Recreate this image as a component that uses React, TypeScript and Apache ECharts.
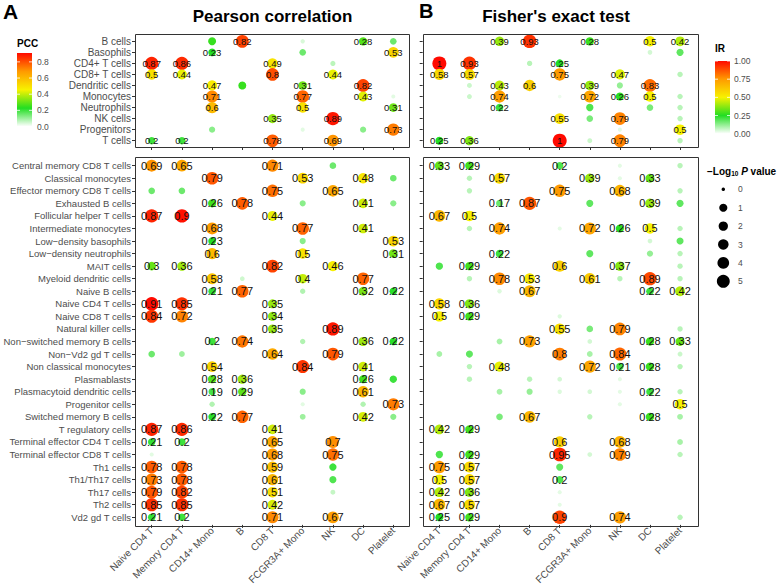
import React, { useEffect, useRef } from 'react';
import * as echarts from 'echarts';

const _ = null;

const cellTypes = ['Naive CD4 T', 'Memory CD4 T', 'CD14+ Mono', 'B', 'CD8 T', 'FCGR3A+ Mono', 'NK', 'DC', 'Platelet'];

const majorLineages = ['B cells', 'Basophils', 'CD4+ T cells', 'CD8+ T cells', 'Dendritic cells', 'Monocytes', 'Neutrophils', 'NK cells', 'Progenitors', 'T cells'];

const fineSubsets = [
  'Central memory CD8 T cells', 'Classical monocytes', 'Effector memory CD8 T cells', 'Exhausted B cells',
  'Follicular helper T cells', 'Intermediate monocytes', 'Low\u2212density basophils', 'Low\u2212density neutrophils',
  'MAIT cells', 'Myeloid dendritic cells', 'Naive B cells', 'Naive CD4 T cells', 'Naive CD8 T cells',
  'Natural killer cells', 'Non\u2212switched memory B cells', 'Non\u2212Vd2 gd T cells', 'Non classical monocytes',
  'Plasmablasts', 'Plasmacytoid dendritic cells', 'Progenitor cells', 'Switched memory B cells',
  'T regulatory cells', 'Terminal effector CD4 T cells', 'Terminal effector CD8 T cells', 'Th1 cells',
  'Th1/Th17 cells', 'Th17 cells', 'Th2 cells', 'Vd2 gd T cells',
];

// Each row follows cellTypes. Negative number = dot drawn without a value label (|v| is the value).
const pccMajor: (number | null)[][] = [
  [_, _, -0.25, 0.82, _, -0.04, _, 0.28, -0.15],
  [_, _, 0.23, _, _, -0.15, _, _, 0.53],
  [0.87, 0.86, _, _, 0.49, _, -0.07, _, _],
  [0.5, 0.44, _, _, 0.8, _, 0.44, _, _],
  [_, _, 0.47, -0.25, _, 0.31, _, 0.82, _],
  [_, _, 0.71, _, _, 0.77, _, 0.43, -0.03],
  [_, _, 0.6, _, _, 0.5, _, _, 0.31],
  [_, _, _, _, 0.35, _, 0.89, _, _],
  [_, _, -0.12, _, _, -0.03, _, -0.12, 0.73],
  [0.2, 0.2, _, _, 0.78, _, 0.69, _, _],
];

const pccFine: (number | null)[][] = [
  [0.69, 0.65, _, _, 0.71, _, -0.15, _, _],
  [_, _, 0.79, _, _, 0.53, _, 0.48, -0.15],
  [-0.15, -0.15, _, _, 0.75, _, 0.65, _, _],
  [_, _, 0.26, 0.78, _, -0.12, _, 0.41, -0.12],
  [0.87, 0.9, _, _, 0.44, _, _, _, _],
  [_, _, 0.68, _, _, 0.77, _, 0.41, _],
  [_, _, 0.23, _, _, -0.12, _, _, 0.53],
  [_, _, 0.6, _, _, 0.5, _, _, 0.31],
  [0.3, 0.36, _, _, 0.82, _, 0.46, _, _],
  [_, _, 0.58, -0.05, _, 0.4, _, 0.77, _],
  [_, _, 0.21, 0.77, _, -0.08, _, 0.32, 0.22],
  [0.91, 0.85, _, _, 0.35, _, _, _, _],
  [0.84, 0.72, _, _, 0.34, _, _, _, _],
  [_, _, _, _, 0.35, _, 0.89, _, _],
  [_, _, 0.2, 0.74, _, -0.08, _, 0.36, 0.22],
  [-0.15, -0.1, _, _, 0.64, _, 0.79, _, _],
  [_, _, 0.54, _, _, 0.84, _, 0.41, _],
  [_, _, 0.28, 0.36, _, _, _, 0.26, -0.2],
  [_, _, 0.19, 0.29, _, -0.12, _, 0.61, _],
  [_, _, -0.08, _, _, -0.03, _, -0.08, 0.73],
  [_, _, 0.22, 0.77, _, -0.1, _, 0.42, -0.12],
  [0.87, 0.86, _, _, 0.41, _, _, _, _],
  [0.21, 0.2, _, _, 0.65, _, 0.7, _, _],
  [-0.03, _, _, _, 0.68, _, 0.75, _, _],
  [0.78, 0.78, _, _, 0.59, _, -0.2, _, _],
  [0.73, 0.78, _, _, 0.61, _, -0.18, _, _],
  [0.79, 0.82, _, _, 0.51, _, -0.06, _, _],
  [0.85, 0.85, _, _, 0.42, _, _, _, _],
  [0.21, 0.2, _, _, 0.71, _, 0.67, _, _],
];

const irMajor: (number | null)[][] = [
  [_, _, 0.39, 0.93, _, 0.28, _, 0.5, 0.42],
  [_, _, _, _, _, _, _, -0.05, -0.18],
  [1, 0.93, _, -0.08, 0.25, _, _, _, _],
  [0.58, 0.57, _, _, 0.75, _, 0.47, _, -0.08],
  [_, -0.06, 0.43, 0.6, _, 0.39, -0.12, 0.83, _],
  [_, -0.06, 0.74, _, -0.02, 0.72, 0.26, 0.5, -0.08],
  [_, _, 0.22, _, _, -0.2, _, -0.15, -0.08],
  [_, _, _, _, 0.55, -0.15, 0.79, _, -0.08],
  [_, _, _, _, _, _, -0.03, _, 0.5],
  [0.25, 0.36, _, _, 1, -0.06, 0.79, _, -0.08],
];

const irFine: (number | null)[][] = [
  [0.33, 0.29, _, _, 0.2, _, -0.03, _, -0.08],
  [_, -0.08, 0.57, _, _, 0.39, -0.03, 0.33, _],
  [_, -0.08, _, _, 0.75, _, 0.68, _, -0.08],
  [_, _, 0.17, 0.87, _, -0.18, _, 0.39, -0.18],
  [0.67, 0.5, _, _, _, _, _, _, _],
  [_, -0.08, 0.74, _, -0.03, 0.72, 0.26, 0.5, -0.08],
  [_, _, _, _, _, _, _, -0.05, -0.18],
  [_, _, 0.22, _, _, -0.18, _, -0.12, -0.08],
  [-0.2, 0.29, _, _, 0.6, _, 0.37, _, -0.08],
  [_, -0.08, 0.78, 0.53, _, 0.61, -0.08, 0.89, -0.08],
  [_, _, -0.04, 0.67, _, _, _, 0.22, 0.42],
  [0.58, 0.36, _, _, _, _, _, _, _],
  [0.5, 0.29, _, _, -0.04, _, _, _, _],
  [_, _, _, _, 0.55, -0.15, 0.79, _, -0.08],
  [_, _, -0.1, 0.73, _, -0.05, _, 0.28, 0.33],
  [-0.1, -0.18, _, _, 0.8, -0.1, 0.84, _, -0.06],
  [_, -0.08, 0.48, _, _, 0.72, 0.21, 0.28, -0.08],
  [_, -0.08, _, -0.08, -0.05, _, -0.03, _, _],
  [_, _, -0.1, -0.12, -0.04, -0.05, -0.03, 0.22, -0.08],
  [_, _, _, _, _, _, -0.03, _, 0.5],
  [_, _, -0.15, 0.67, _, -0.08, _, 0.28, -0.1],
  [0.42, 0.29, _, _, _, _, _, _, _],
  [_, _, _, _, 0.6, _, 0.68, _, -0.1],
  [-0.2, 0.29, _, _, 0.95, -0.05, 0.79, _, -0.08],
  [0.75, 0.57, _, _, -0.18, _, _, _, _],
  [0.5, 0.57, _, _, 0.2, _, _, _, _],
  [0.42, 0.36, _, _, -0.03, _, _, _, _],
  [0.67, 0.57, _, _, -0.03, _, _, _, _],
  [0.25, 0.29, _, _, 0.9, _, 0.74, _, -0.08],
];

const pccTicks = [0, 0.2, 0.4, 0.6, 0.8];
const irTicks = [0, 0.25, 0.5, 0.75, 1];
const pValueLevels = [0, 1, 2, 3, 4, 5];
const pccMax = 0.91;
const irMax = 1;

const palette = ['#ffffff', '#22de22', '#f7f200', '#ff9a00', '#ff0a00'];
const FONT = '"Liberation Sans", Arial, Helvetica, sans-serif';
const GREY = '#4d4d4d';

function toData(m: (number | null)[][]) {
  const out: number[][] = [];
  m.forEach((row, r) =>
    row.forEach((v, c) => {
      if (v !== null) out.push([c, r, Math.abs(v), v > 0 ? 1 : 0]);
    })
  );
  return out;
}

const dotSize = (v: number) => 2 + 12 * Math.sqrt(v);
const pLegendSize = (p: number) => (p === 0 ? 3.5 : 6.9 + 1.2 * p);

export default function App() {
  const ref = useRef<HTMLDivElement>(null);
  useEffect(() => {
    if (!ref.current) return;
    const chart = echarts.init(ref.current, undefined, { renderer: 'svg' });

    // grids: 0 left-top, 1 left-bottom, 2 right-top, 3 right-bottom
    const grids = [
      { left: 136.6, top: 35.8, width: 271.8, height: 110.4 },
      { left: 136.6, top: 159.4, width: 271.8, height: 365.3 },
      { left: 424.3, top: 35.8, width: 270.8, height: 110.4 },
      { left: 424.3, top: 159.4, width: 270.8, height: 365.3 },
    ];
    const boxes = [
      { x: 135, y: 34, w: 274, h: 113 },
      { x: 135, y: 157, w: 274, h: 369 },
      { x: 423, y: 34, w: 275, h: 113 },
      { x: 423, y: 157, w: 275, h: 369 },
    ];
    const matrices = [pccMajor, pccFine, irMajor, irFine];

    const graphic: any[] = [];
    boxes.forEach((b) =>
      graphic.push({
        type: 'rect',
        shape: { x: b.x + 0.5, y: b.y + 0.5, width: b.w, height: b.h },
        style: { fill: 'none', stroke: '#333333', lineWidth: 1 },
        z: 10,
      })
    );
    graphic.push(
      { type: 'text', x: 3, y: 11, style: { text: 'A', fontSize: 21, fontWeight: 'bold', fill: '#000', fontFamily: FONT, verticalAlign: 'middle' } },
      { type: 'text', x: 419, y: 11, style: { text: 'B', fontSize: 20, fontWeight: 'bold', fill: '#000', fontFamily: FONT, verticalAlign: 'middle' } },
      { type: 'text', x: 272.5, y: 16, style: { text: 'Pearson correlation', fontSize: 17, fontWeight: 'bold', fill: '#000', fontFamily: FONT, align: 'center', verticalAlign: 'middle' } },
      { type: 'text', x: 556, y: 16, style: { text: "Fisher's exact test", fontSize: 17, fontWeight: 'bold', fill: '#000', fontFamily: FONT, align: 'center', verticalAlign: 'middle' } }
    );

    // PCC colour bar
    const pccBar = { x: 17, y: 53, w: 15, h: 73.5 };
    graphic.push(
      { type: 'text', x: 17, y: 43, style: { text: 'PCC', fontSize: 10, fontWeight: 'bold', fill: '#000', fontFamily: FONT, verticalAlign: 'middle' } },
      {
        type: 'rect',
        shape: { x: pccBar.x, y: pccBar.y, width: pccBar.w, height: pccBar.h },
        style: {
          fill: {
            type: 'linear', x: 0, y: 1, x2: 0, y2: 0,
            colorStops: palette.map((c, i) => ({ offset: i / (palette.length - 1), color: c })),
          },
        },
      }
    );
    pccTicks.forEach((t) => {
      const y = pccBar.y + pccBar.h - (t / pccMax) * pccBar.h;
      graphic.push({ type: 'text', x: 37, y, style: { text: t.toFixed(1), fontSize: 8.5, fill: GREY, fontFamily: FONT, verticalAlign: 'middle' } });
      graphic.push({ type: 'line', shape: { x1: pccBar.x, y1: y, x2: pccBar.x + 3, y2: y }, style: { stroke: '#fff', lineWidth: 0.8 } });
      graphic.push({ type: 'line', shape: { x1: pccBar.x + pccBar.w - 3, y1: y, x2: pccBar.x + pccBar.w, y2: y }, style: { stroke: '#fff', lineWidth: 0.8 } });
    });

    // IR colour bar
    const irBar = { x: 715, y: 61, w: 15, h: 72.7 };
    graphic.push(
      { type: 'text', x: 715, y: 48.5, style: { text: 'IR', fontSize: 10, fontWeight: 'bold', fill: '#000', fontFamily: FONT, verticalAlign: 'middle' } },
      {
        type: 'rect',
        shape: { x: irBar.x, y: irBar.y, width: irBar.w, height: irBar.h },
        style: {
          fill: {
            type: 'linear', x: 0, y: 1, x2: 0, y2: 0,
            colorStops: palette.map((c, i) => ({ offset: i / (palette.length - 1), color: c })),
          },
        },
      }
    );
    irTicks.forEach((t) => {
      const y = irBar.y + irBar.h - (t / irMax) * irBar.h;
      graphic.push({ type: 'text', x: 734, y, style: { text: t.toFixed(2), fontSize: 8.5, fill: GREY, fontFamily: FONT, verticalAlign: 'middle' } });
      graphic.push({ type: 'line', shape: { x1: irBar.x, y1: y, x2: irBar.x + 3, y2: y }, style: { stroke: '#fff', lineWidth: 0.8 } });
      graphic.push({ type: 'line', shape: { x1: irBar.x + irBar.w - 3, y1: y, x2: irBar.x + irBar.w, y2: y }, style: { stroke: '#fff', lineWidth: 0.8 } });
    });

    // -log10 P size legend
    graphic.push({
      type: 'text', x: 707, y: 171,
      style: {
        text: '{b|\u2212Log}{s|10}{b| }{i|P}{b| value}',
        fontFamily: FONT, verticalAlign: 'middle',
        rich: {
          b: { fontSize: 10, fontWeight: 'bold', fill: '#000', fontFamily: FONT },
          s: { fontSize: 6.5, fontWeight: 'bold', fill: '#000', fontFamily: FONT, verticalAlign: 'bottom', padding: [4, 0, 0, 0] },
          i: { fontSize: 10, fontWeight: 'bold', fontStyle: 'italic', fill: '#000', fontFamily: FONT },
        },
      },
    });
    pValueLevels.forEach((p, i) => {
      const y = 189.3 + i * 18.4;
      graphic.push({ type: 'circle', shape: { cx: 723.3, cy: y, r: pLegendSize(p) / 2 }, style: { fill: '#000' } });
      graphic.push({ type: 'text', x: 738, y, style: { text: String(p), fontSize: 8.5, fill: GREY, fontFamily: FONT, verticalAlign: 'middle' } });
    });

    const option: any = {
      animation: false,
      backgroundColor: '#ffffff',
      textStyle: { fontFamily: FONT },
      grid: grids.map((g) => ({ ...g, containLabel: false })),
      xAxis: grids.map((g, i) => ({
        type: 'category',
        gridIndex: i,
        data: cellTypes,
        offset: i % 2 === 0 ? 0.8 : 1.3,
        axisLine: { show: false },
        axisTick: { show: true, alignWithLabel: true, length: 3, lineStyle: { color: '#333', width: 1 } },
        axisLabel: { show: i % 2 === 1, interval: 0, rotate: 45, fontSize: 10, color: GREY, margin: 4, fontFamily: FONT },
        splitLine: { show: false },
      })),
      yAxis: grids.map((g, i) => ({
        type: 'category',
        gridIndex: i,
        data: i % 2 === 0 ? majorLineages : fineSubsets,
        inverse: true,
        offset: 1.6,
        axisLine: { show: false },
        axisTick: { show: true, alignWithLabel: true, length: 3, lineStyle: { color: '#333', width: 1 } },
        axisLabel: { show: i < 2, interval: 0, fontSize: i === 0 ? 10 : 9.5, color: GREY, margin: 4, fontFamily: FONT },
        splitLine: { show: false },
      })),
      visualMap: [
        { type: 'continuous', show: false, seriesIndex: [0, 1], dimension: 2, min: 0, max: pccMax, inRange: { color: palette } },
        { type: 'continuous', show: false, seriesIndex: [2, 3], dimension: 2, min: 0, max: irMax, inRange: { color: palette } },
      ],
      series: matrices.map((m, i) => ({
        type: 'scatter',
        xAxisIndex: i,
        yAxisIndex: i,
        data: toData(m),
        symbol: 'circle',
        symbolSize: (val: number[]) => dotSize(val[2]),
        itemStyle: { opacity: 1 },
        label: {
          show: true,
          position: 'inside',
          color: '#111',
          fontSize: i % 2 === 0 ? 9.5 : 11,
          fontFamily: FONT,
          formatter: (p: any) => (p.value[3] ? String(p.value[2]) : ''),
        },
        emphasis: { disabled: true },
      })),
      graphic,
    };
    chart.setOption(option);
    return () => chart.dispose();
  }, []);
  return <div ref={ref} style={{ position: 'fixed', left: 0, top: 0, width: 778, height: 587, background: '#fff' }} />;
}
